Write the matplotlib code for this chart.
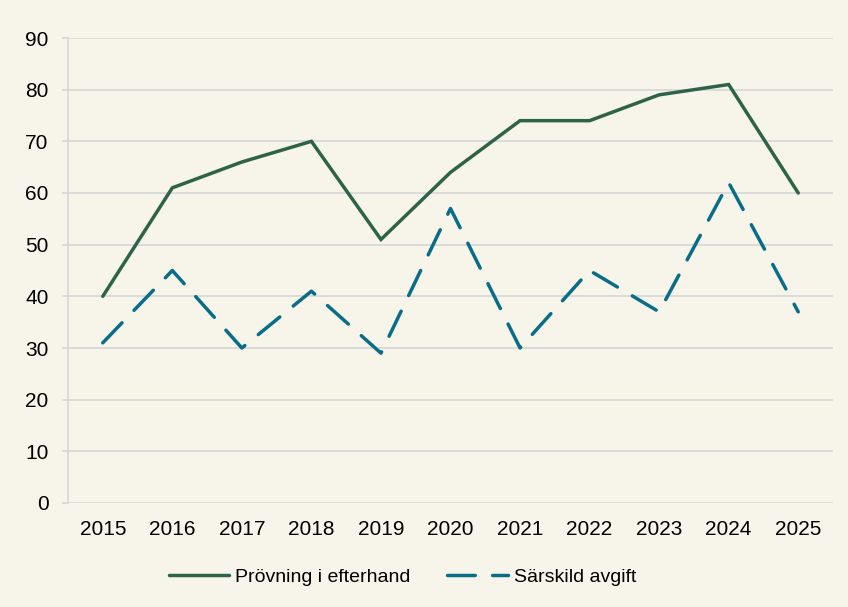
import matplotlib
matplotlib.use("Agg")
import matplotlib.pyplot as plt

# data
years = ["2015", "2016", "2017", "2018", "2019", "2020", "2021", "2022", "2023", "2024", "2025"]
provning = [40, 61, 66, 70, 51, 64, 74, 74, 79, 81, 60]
sarskild = [31, 45, 30, 41, 29, 57, 30, 45, 37, 62, 37]

bg = "#f7f5ea"
green = "#2e6347"
blue = "#0a6d88"
grid = "#d9d9d9"

plt.rcParams['font.family'] = ['Liberation Sans', 'DejaVu Sans']

fig = plt.figure(figsize=(8.48, 6.07), dpi=100, facecolor=bg)
ax = fig.add_axes([68 / 848, 1 - 503 / 607, (833 - 68) / 848, (503 - 38) / 607])
ax.set_facecolor(bg)

x = list(range(len(years)))
ax.plot(x, provning, color=green, linewidth=2.5, solid_capstyle='round',
        solid_joinstyle='miter', label="Prövning i efterhand")
ax.plot(x, sarskild, color=blue, linewidth=2.5, linestyle=(0, (8, 5)),
        dash_capstyle='round', label="Särskild avgift")

ax.set_xlim(-0.5, len(years) - 0.5)
ax.set_ylim(0, 90)
ax.set_yticks(range(0, 91, 10))
ax.set_xticks(x)
ax.set_xticklabels(years)

ax.grid(axis='y', color=grid, linewidth=1.3)
ax.set_axisbelow(True)
for s in ['top', 'right', 'bottom']:
    ax.spines[s].set_visible(False)
ax.spines['left'].set_color(grid)
ax.spines['left'].set_linewidth(1.3)

ax.tick_params(axis='y', length=4.5, width=1.3, color=grid, labelsize=15, pad=9.5)
ax.tick_params(axis='x', length=0, labelsize=15, pad=12.5)

fig.legend(loc='center', bbox_to_anchor=(402.5 / 848, 1 - 577 / 607), ncol=2, frameon=False,
           fontsize=14, handlelength=3.1, handletextpad=0.3, columnspacing=1.9)

fig.savefig("out.png", dpi=100, facecolor=bg)
